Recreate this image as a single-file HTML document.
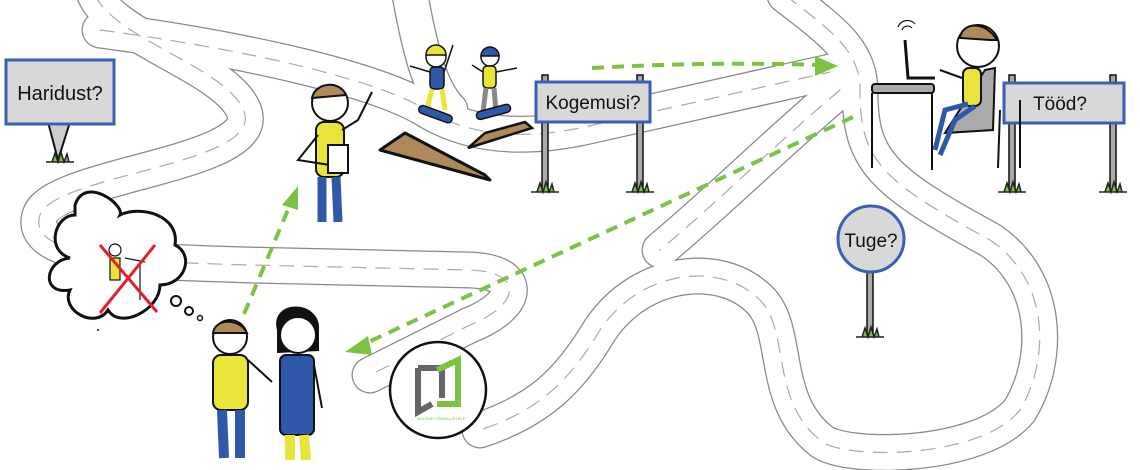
<!DOCTYPE html>
<html><head><meta charset="utf-8"><style>
html,body{margin:0;padding:0;background:#fff;width:1140px;height:470px;overflow:hidden}
svg{display:block}
text{font-family:"Liberation Sans",sans-serif}
</style></head><body>
<svg width="1140" height="470" viewBox="0 0 1140 470" xmlns="http://www.w3.org/2000/svg">
<defs>
<g id="grass"><path d="M-14,0 L14,0 M-8,0 L-5,-9 L-2,0 L1,-10 L4,0 L7,-8 L9,0Z" stroke="#222" stroke-width="1.5" fill="#7dc242"/></g>
</defs>
<g fill="none" stroke-linecap="round" stroke-linejoin="round">
<g stroke="#888" stroke-width="37">
<path d="M95,-5 C115,40 235,70 245,115 C255,165 55,175 40,215 C25,260 150,262 250,265 L470,270 C525,272 520,305 470,325 L370,375"/>
<path d="M100,30 C250,50 380,80 430,112 C470,135 520,140 580,128 L830,72"/>
<path d="M410,-5 C420,50 430,90 450,110"/>
<path d="M785,-5 C830,30 860,50 860,90 C860,160 880,180 990,240 C1050,280 1050,360 1020,410 C980,460 840,460 820,440 C770,400 790,330 760,300 C720,260 640,270 600,330 C570,380 540,410 480,430"/>
<path d="M840,90 C780,140 720,200 660,250"/>
</g>
<g stroke="#fff" stroke-width="34.5">
<path d="M95,-5 C115,40 235,70 245,115 C255,165 55,175 40,215 C25,260 150,262 250,265 L470,270 C525,272 520,305 470,325 L370,375"/>
<path d="M100,30 C250,50 380,80 430,112 C470,135 520,140 580,128 L830,72"/>
<path d="M410,-5 C420,50 430,90 450,110"/>
<path d="M785,-5 C830,30 860,50 860,90 C860,160 880,180 990,240 C1050,280 1050,360 1020,410 C980,460 840,460 820,440 C770,400 790,330 760,300 C720,260 640,270 600,330 C570,380 540,410 480,430"/>
<path d="M840,90 C780,140 720,200 660,250"/>
</g>
<g stroke="#aaa" stroke-width="1.2" stroke-dasharray="14 10">
<path d="M95,-5 C115,40 235,70 245,115 C255,165 55,175 40,215 C25,260 150,262 250,265 L470,270 C525,272 520,305 470,325 L370,375"/>
<path d="M100,30 C250,50 380,80 430,112 C470,135 520,140 580,128 L830,72"/>
<path d="M785,-5 C830,30 860,50 860,90 C860,160 880,180 990,240 C1050,280 1050,360 1020,410 C980,460 840,460 820,440 C770,400 790,330 760,300 C720,260 640,270 600,330 C570,380 540,410 480,430"/>
<path d="M840,90 C780,140 720,200 660,250"/>
</g>
</g>
<path d="M380,150 L405,133 L485,175 L490,180 Z" fill="#b0895a" stroke="#111" stroke-width="3" stroke-linejoin="round"/>
<path d="M468,148 L485,133 L525,122 L532,128 Z" fill="#b0895a" stroke="#111" stroke-width="2.5"/>
<g stroke="#111" stroke-width="1.5">
<circle cx="436" cy="57" r="10" fill="#fff"/><path d="M426,55 A10,10 0 0 1 446,55 Z" fill="#e9e43a"/>
<rect x="430" y="67" width="14" height="22" rx="4" fill="#2f58a8"/>
<path d="M430,72 L410,66 M444,72 L453,45" fill="none"/>
<path d="M432,89 L428,105 L432,115 M442,89 L445,110" stroke="#e9e43a" stroke-width="5" fill="none"/>
<rect x="418" y="110" width="35" height="8" rx="4" fill="#2f58a8" transform="rotate(20 435 114)"/>
<circle cx="490" cy="57" r="9" fill="#fff"/><path d="M481,56 A9,9 0 0 1 499,56 Z" fill="#2f58a8"/>
<rect x="483" y="66" width="13" height="22" rx="4" fill="#e9e43a"/>
<path d="M483,72 L472,65 M496,72 L517,68" fill="none"/>
<path d="M486,88 L483,112 M494,88 L496,112" stroke="#888" stroke-width="5" fill="none"/>
<rect x="476" y="108" width="35" height="8" rx="4" fill="#2f58a8" transform="rotate(-15 493 112)"/>
</g>
<path d="M48,122 L58,160 L70,122" fill="#ccc" stroke="#111" stroke-width="2"/>
<rect x="6" y="60" width="108" height="64" fill="#d7d8d8" stroke="#3a5fb4" stroke-width="3"/>
<text x="60" y="100" font-size="20" text-anchor="middle" fill="#111">Haridust?</text>
<use href="#grass" x="60" y="162"/>
<rect x="542" y="75" width="6" height="115" fill="#aaa" stroke="#111" stroke-width="1.5"/>
<rect x="637" y="75" width="6" height="115" fill="#aaa" stroke="#111" stroke-width="1.5"/>
<rect x="536" y="82" width="114" height="40" fill="#d7d8d8" stroke="#3a5fb4" stroke-width="3"/>
<text x="593" y="109" font-size="19" text-anchor="middle" fill="#111">Kogemusi?</text>
<use href="#grass" x="545" y="192"/><use href="#grass" x="640" y="192"/>
<rect x="1009" y="75" width="6" height="115" fill="#aaa" stroke="#111" stroke-width="1.5"/>
<rect x="1110" y="75" width="6" height="115" fill="#aaa" stroke="#111" stroke-width="1.5"/>
<rect x="1004" y="83" width="120" height="40" fill="#d7d8d8" stroke="#3a5fb4" stroke-width="3"/>
<text x="1060" y="110" font-size="19" text-anchor="middle" fill="#111">Tööd?</text>
<use href="#grass" x="1012" y="192"/><use href="#grass" x="1113" y="192"/>
<rect x="867" y="272" width="6" height="62" fill="#aaa" stroke="#111" stroke-width="1.5"/>
<circle cx="871" cy="239" r="33" fill="#d7d8d8" stroke="#3a5fb4" stroke-width="3"/>
<text x="871" y="247" font-size="19" text-anchor="middle" fill="#111">Tuge?</text>
<use href="#grass" x="870" y="337"/>
<g stroke="#111" stroke-width="2">
<rect x="872" y="84" width="62" height="9" rx="3" fill="#aaa"/>
<path d="M872,93 L872,168 M932,93 L932,170 M1000,110 L998,168 M1020,100 L1020,168" fill="none"/>
<path d="M905,40 L908,78 L935,78" fill="none" stroke-width="3"/>
<path d="M902,30 A6,6 0 0 1 912,28 M898,27 A10,10 0 0 1 915,24" fill="none" stroke-width="1.2"/>
<path d="M985,70 L995,68 L993,130 L945,133 Z" fill="#aaa"/>
<circle cx="978" cy="46" r="21" fill="#fff"/>
<path d="M960,38 C962,22 985,20 997,40 L990,40 Z" fill="#b08a5a"/>
<rect x="963" y="68" width="18" height="38" rx="6" fill="#e9e43a"/>
<path d="M962,78 L940,70" fill="none"/>
<path d="M968,104 L945,110 L935,150 M975,106 L955,120 L940,155" stroke="#2f58a8" stroke-width="5" fill="none"/>
</g>
<g stroke="#111" stroke-width="2">
<circle cx="330" cy="103" r="18" fill="#fff"/>
<path d="M312,98 C315,82 340,80 346,95 Z" fill="#b08a5a"/>
<rect x="316" y="122" width="28" height="55" rx="8" fill="#e9e43a"/>
<path d="M342,130 L358,120 L372,92 M318,135 L298,160 L330,165" fill="none"/>
<rect x="328" y="145" width="20" height="28" fill="#fff"/>
<path d="M322,177 L322,222 M336,177 L338,222" stroke="#2f58a8" stroke-width="9" fill="none"/>
</g>
<g stroke="#111" stroke-width="3" fill="#fff">
<path d="M75,205 C85,175 125,205 120,215 C140,205 180,215 175,245 C195,255 185,285 160,285 C160,310 120,330 108,310 C95,330 60,310 70,290 C40,295 45,260 70,258 C45,250 55,215 75,215 Z"/>
<circle cx="176" cy="301" r="5" stroke-width="2"/><circle cx="189" cy="311" r="4" stroke-width="2"/><circle cx="200" cy="318" r="2.5" stroke-width="1.5"/>
</g>
<g stroke="#111" stroke-width="1.2" fill="none"><circle cx="115" cy="250" r="6" fill="#fff"/><rect x="110" y="258" width="10" height="22" fill="#e9e43a"/><path d="M125,258 L145,262 M140,264 L140,300"/></g>
<path d="M100,245 L157,312 M155,245 L100,313" stroke="#e3202a" stroke-width="3"/>
<circle cx="98" cy="330" r="1" fill="#111"/>
<g stroke="#111" stroke-width="2">
<circle cx="230" cy="337" r="17" fill="#fff"/>
<path d="M213,333 C215,318 240,318 247,333 Z" fill="#b08a5a"/>
<rect x="213" y="355" width="35" height="55" rx="8" fill="#e9e43a"/>
<path d="M222,410 L224,458 M240,410 L240,458" stroke="#2f58a8" stroke-width="10" fill="none"/>
<path d="M248,360 L272,382" fill="none"/>
<path d="M278,330 C270,300 320,300 318,330 L318,350 L278,352 Z" fill="#111"/>
<circle cx="298" cy="335" r="18" fill="#fff"/>
<rect x="280" y="355" width="34" height="80" rx="6" fill="#2f58a8"/>
<path d="M290,435 L290,460 M304,435 L306,460" stroke="#e9e43a" stroke-width="10" fill="none"/>
<path d="M314,365 L322,408" fill="none"/>
</g>
<circle cx="438" cy="390" r="48" fill="#fff" stroke="#111" stroke-width="2.5"/>
<path d="M418,368 L442,368 L442,398 M418,368 L418,412 L432,404" fill="none" stroke="#666" stroke-width="6"/>
<path d="M437,404 L458,404 L458,360 L437,370" fill="none" stroke="#7dc242" stroke-width="6"/>
<text x="441" y="420" font-size="4" text-anchor="middle" fill="#7dc242">AVA END VÕIMALUSTELE</text>
<g stroke="#7dc242" stroke-width="4" stroke-dasharray="12 8" fill="none">
<path d="M244,314 L290,205"/>
<path d="M592,68 C680,63 760,63 820,65"/>
<path d="M853,117 L362,345"/>
</g>
<g fill="#7dc242">
<path d="M298,186 L282,205 L298,210 Z"/>
<path d="M838,66 L815,56 L815,76 Z"/>
<path d="M345,352 L368,336 L372,355 Z"/>
</g>
</svg>
</body></html>
